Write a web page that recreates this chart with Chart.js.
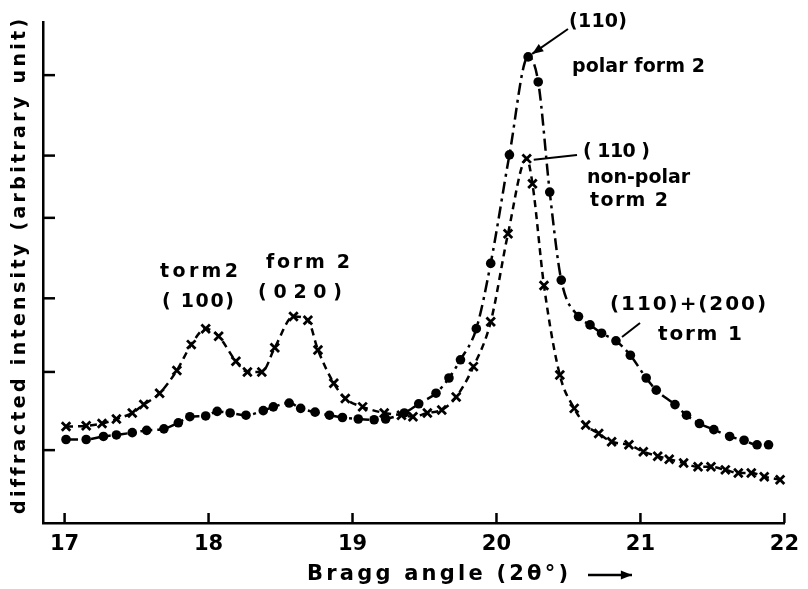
<!DOCTYPE html>
<html lang="en">

<head>
  <meta charset="UTF-8">
  <title>Bragg angle - diffracted intensity</title>
  <script src="https://cdn.jsdelivr.net/npm/chart.js"></script>
  <style>
    body { margin: 0; background: #fff; }
  </style>
</head>

<body>
  <canvas id="chartXrd" width="808" height="589"></canvas>

  <script>
    // polar form 2 (dots)
    const polarAngle = [17.01, 17.15, 17.27, 17.36, 17.47, 17.57, 17.69, 17.79, 17.87, 17.98, 18.06, 18.15, 18.26, 18.38, 18.45, 18.56, 18.64, 18.74, 18.84, 18.93, 19.04, 19.15, 19.23, 19.36, 19.46, 19.58, 19.67, 19.75, 19.86, 19.96, 20.09, 20.22, 20.29, 20.37, 20.45, 20.57, 20.65, 20.73, 20.83, 20.93, 21.04, 21.11, 21.24, 21.32, 21.41, 21.51, 21.62, 21.72, 21.81, 21.89]
    const polarIntensity = [1.15, 1.15, 1.19, 1.21, 1.24, 1.27, 1.29, 1.37, 1.45, 1.46, 1.52, 1.50, 1.47, 1.53, 1.58, 1.63, 1.56, 1.51, 1.47, 1.44, 1.42, 1.41, 1.42, 1.50, 1.62, 1.76, 1.96, 2.20, 2.61, 3.47, 4.90, 6.19, 5.86, 4.41, 3.25, 2.77, 2.66, 2.55, 2.45, 2.26, 1.96, 1.80, 1.61, 1.47, 1.36, 1.28, 1.19, 1.14, 1.08, 1.08]

    // non-polar form 2 (crosses)
    const nonPolarAngle = [17.01, 17.15, 17.26, 17.36, 17.47, 17.55, 17.66, 17.78, 17.88, 17.98, 18.07, 18.19, 18.27, 18.37, 18.46, 18.59, 18.69, 18.76, 18.87, 18.95, 19.07, 19.22, 19.34, 19.42, 19.52, 19.62, 19.72, 19.84, 19.96, 20.08, 20.21, 20.25, 20.33, 20.44, 20.54, 20.62, 20.71, 20.80, 20.92, 21.02, 21.12, 21.20, 21.30, 21.40, 21.49, 21.59, 21.68, 21.77, 21.86, 21.97]
    const nonPolarIntensity = [1.32, 1.33, 1.36, 1.42, 1.50, 1.61, 1.76, 2.06, 2.40, 2.61, 2.51, 2.18, 2.04, 2.04, 2.36, 2.77, 2.72, 2.33, 1.89, 1.69, 1.58, 1.50, 1.47, 1.45, 1.50, 1.54, 1.71, 2.11, 2.70, 3.86, 4.85, 4.52, 3.18, 2.00, 1.56, 1.34, 1.23, 1.12, 1.08, 0.99, 0.93, 0.89, 0.84, 0.79, 0.79, 0.75, 0.71, 0.71, 0.66, 0.62]

    const xTicks = [17, 18, 19, 20, 21, 22]
    // the y ticks of the original are hand drawn, not evenly spaced
    const yTicks = [1.01, 2.04, 3.01, 4.07, 4.89, 5.95]

    const FONT = '"DejaVu Sans", sans-serif'

    function toPoints(xs, ys) {
      return xs.map((x, i) => ({ x: x, y: ys[i] }))
    }

    // draw text stretched with letter spacing so it covers `width` px
    function textFit(ctx, str, x, y, size, width) {
      ctx.font = 'bold ' + size + 'px ' + FONT
      ctx.letterSpacing = '0px'
      let w = ctx.measureText(str).width
      let s = (width - w) / (str.length - 1)
      ctx.letterSpacing = s.toFixed(2) + 'px'
      ctx.fillText(str, x, y)
    }

    function arrow(ctx, x1, y1, x2, y2, head) {
      ctx.beginPath()
      ctx.moveTo(x1, y1)
      ctx.lineTo(x2, y2)
      ctx.stroke()
      if (!head) return
      let a = Math.atan2(y2 - y1, x2 - x1)
      ctx.beginPath()
      ctx.moveTo(x2, y2)
      ctx.lineTo(x2 - 12 * Math.cos(a - 0.38), y2 - 12 * Math.sin(a - 0.38))
      ctx.lineTo(x2 - 12 * Math.cos(a + 0.38), y2 - 12 * Math.sin(a + 0.38))
      ctx.closePath()
      ctx.fill()
    }

    // inward ticks, titles and the labels of the peaks
    const decor = {
      id: 'decor',
      afterDraw(chart) {
        const ctx = chart.ctx, xs = chart.scales.x, ys = chart.scales.y
        const area = chart.chartArea
        ctx.save()
        ctx.strokeStyle = '#000'
        ctx.fillStyle = '#000'
        ctx.lineWidth = 2.5
        xTicks.forEach(v => {
          let px = xs.getPixelForValue(v)
          ctx.beginPath(); ctx.moveTo(px, area.bottom); ctx.lineTo(px, area.bottom - 10); ctx.stroke()
        })
        yTicks.forEach(v => {
          let py = ys.getPixelForValue(v)
          ctx.beginPath(); ctx.moveTo(area.left, py); ctx.lineTo(area.left + 12, py); ctx.stroke()
        })

        ctx.textBaseline = 'middle'
        ctx.textAlign = 'left'
        // y title
        ctx.save()
        ctx.translate(20, 267)
        ctx.rotate(-Math.PI / 2)
        textFit(ctx, 'diffracted intensity (arbitrary unit)', -247, 0, 19, 494)
        ctx.restore()
        // x title
        textFit(ctx, 'Bragg angle (2θ°)', 307, 575, 21, 261)
        ctx.lineWidth = 2.5
        arrow(ctx, 588, 575, 632, 575, true)

        ctx.lineWidth = 2
        let peakX = xs.getPixelForValue(polarAngle[31]), peakY = ys.getPixelForValue(polarIntensity[31])
        textFit(ctx, '(110)', 569, 22, 19, 58)
        arrow(ctx, 568, 29, peakX + 4, peakY - 3, true)
        textFit(ctx, 'polar form 2', 572, 67, 19, 133)

        let npX = xs.getPixelForValue(nonPolarAngle[30]), npY = ys.getPixelForValue(nonPolarIntensity[30])
        textFit(ctx, '( 110 )', 583, 152, 19, 67)
        arrow(ctx, 577, 155, npX + 7, npY + 1, false)
        textFit(ctx, 'non-polar', 587, 178, 19, 103)
        textFit(ctx, 'torm 2', 590, 201, 19, 78)

        textFit(ctx, 'torm2', 160, 272, 19, 78)
        textFit(ctx, '( 100)', 162, 302, 19, 72)
        textFit(ctx, 'form 2', 266, 263, 19, 84)
        textFit(ctx, '(020)', 258, 293, 19, 84)

        textFit(ctx, '(110)+(200)', 610, 305, 20, 156)
        textFit(ctx, 'torm 1', 658, 335, 20, 84)
        arrow(ctx, 640, 323, 622, 337, false)
        ctx.restore()
      }
    }

    const ctxXrd = document.getElementById('chartXrd').getContext('2d')

    new Chart(ctxXrd, {
      type: 'line',
      data: {
        datasets: [{
          label: 'polar form 2',
          data: toPoints(polarAngle, polarIntensity),
          borderColor: '#000',
          backgroundColor: '#000',
          borderWidth: 2.5,
          borderDash: [12, 5, 3, 5],
          pointStyle: 'circle',
          pointRadius: 4.8,
          pointBorderWidth: 0,
          cubicInterpolationMode: 'monotone',
          clip: false
        }, {
          label: 'non-polar form 2',
          data: toPoints(nonPolarAngle, nonPolarIntensity),
          borderColor: '#000',
          backgroundColor: '#000',
          borderWidth: 2.5,
          borderDash: [7, 5],
          pointStyle: 'crossRot',
          pointRadius: 6,
          pointBorderWidth: 2.8,
          cubicInterpolationMode: 'monotone',
          clip: false
        }]
      },
      options: {
        responsive: false,
        animation: false,
        layout: { padding: { top: 22, right: 13, left: 0, bottom: 0 } },
        plugins: {
          legend: { display: false },
          tooltip: { enabled: false }
        },
        scales: {
          x: {
            type: 'linear',
            min: 16.85,
            max: 22,
            afterFit: s => { s.height = 66 },
            afterBuildTicks: s => { s.ticks = xTicks.map(v => ({ value: v })) },
            grid: { drawOnChartArea: false, drawTicks: false, color: 'rgba(0,0,0,0)' },
            border: { display: true, color: '#000', width: 2.5 },
            ticks: { color: '#000', padding: 9, font: { family: FONT, size: 21, weight: 'bold' } }
          },
          y: {
            min: 0.05,
            max: 6.65,
            afterFit: s => { s.width = 43 },
            grid: { drawOnChartArea: false, drawTicks: false, color: 'rgba(0,0,0,0)' },
            border: { display: true, color: '#000', width: 2.5 },
            ticks: { display: false }
          }
        }
      },
      plugins: [decor]
    })
  </script>
</body>

</html>
